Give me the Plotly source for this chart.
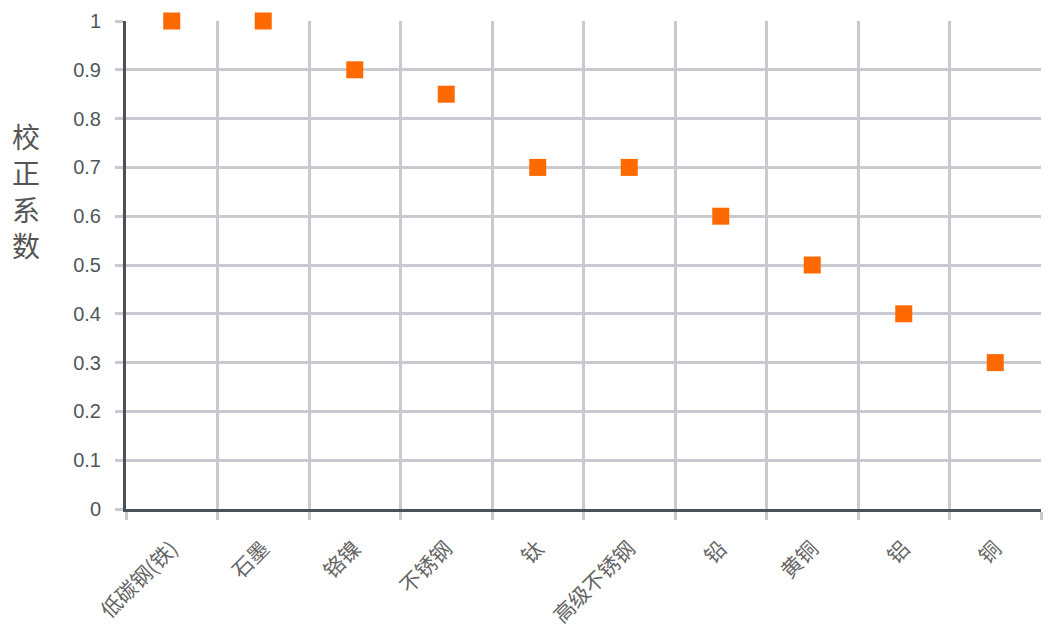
import plotly.graph_objects as go

categories = ["低碳钢(铁)", "石墨", "铬镍", "不锈钢", "钛", "高级不锈钢", "铅", "黄铜", "铝", "铜"]
values = [1.0, 1.0, 0.9, 0.85, 0.7, 0.7, 0.6, 0.5, 0.4, 0.3]
y_ticks = [0, 0.1, 0.2, 0.3, 0.4, 0.5, 0.6, 0.7, 0.8, 0.9, 1]
y_tick_text = ["0", "0.1", "0.2", "0.3", "0.4", "0.5", "0.6", "0.7", "0.8", "0.9", "1"]
y_title = "校<br>正<br>系<br>数"

FONT = "Liberation Sans, Arial, Noto Sans CJK SC"
GRID = "#c9cacf"
AXIS = "#4b5257"
TEXT = "#50575c"

fig = go.Figure(go.Scatter(
    x=categories, y=values, mode="markers",
    marker=dict(symbol="square", size=17, color="#ff6a00", line=dict(width=0)),
    cliponaxis=False, showlegend=False,
))

# plot area in the page: x 126..1041, y 21..509 (page body has an 8px offset)
fig.update_layout(
    width=1057, height=627,
    margin=dict(l=118, r=24, t=13, b=126),
    paper_bgcolor="white", plot_bgcolor="white",
    font=dict(family=FONT, color=TEXT),
    xaxis=dict(
        type="category", range=[-0.5, 9.5], automargin=False,
        tickson="boundaries", showgrid=True, gridcolor=GRID, gridwidth=2.5,
        ticks="outside", ticklen=8, tickcolor=GRID, tickwidth=2.5,
        tickangle=-45, tickfont=dict(size=21, color="#666666", family="Noto Sans CJK SC"),
        ticklabelstandoff=16,
        showline=True, linecolor=AXIS, linewidth=3, zeroline=False,
    ),
    yaxis=dict(
        range=[0, 1], tickvals=y_ticks, ticktext=y_tick_text, automargin=False,
        showgrid=True, gridcolor=GRID, gridwidth=2.5,
        ticks="outside", ticklen=8, tickcolor=GRID, tickwidth=2.5,
        tickfont=dict(size=20, color=TEXT, family=FONT),
        ticklabelstandoff=10,
        showline=True, linecolor=AXIS, linewidth=3, zeroline=False,
    ),
    annotations=[dict(
        text=y_title, xref="paper", yref="paper",
        x=(26 - 126) / 915, y=(509 - 190) / 488,
        xanchor="center", yanchor="middle", showarrow=False,
        font=dict(size=28, color="#555555", family="Noto Sans CJK SC"),
    )],
)

fig.write_html("out.html")
